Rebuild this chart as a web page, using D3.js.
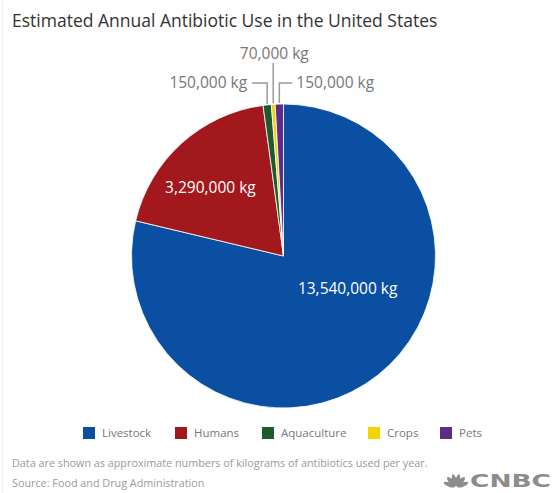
<!DOCTYPE html>
<html>
<head>
<meta charset="utf-8">
<script src="https://cdn.jsdelivr.net/npm/d3@7"></script>
<style>
  body { margin: 0; background: #fff; }
  svg { font-family: "Open Sans", "Noto Sans", sans-serif; }
</style>
</head>
<body>
<div id="plot"></div>
<script>
// data
var categories = ["Livestock", "Humans", "Aquaculture", "Crops", "Pets"];
var kilograms = [13540000, 3290000, 150000, 70000, 150000];
var colors = ["#0b4fa3", "#a3181d", "#1d5a2c", "#f2d500", "#5b2d88"];

var width = 552, height = 493;
var cx = 283.5, cy = 256, radius = 152;

var svg = d3.select("#plot").append("svg")
    .attr("width", width)
    .attr("height", height);

// faint frame line at the left
svg.append("line")
    .attr("x1", 2.5).attr("x2", 2.5)
    .attr("y1", 0).attr("y2", height)
    .attr("stroke", "#f0f0f0");

//Title
svg.append("text")
    .attr("x", 12)
    .attr("y", 27)
    .attr("fill", "#333")
    .style("font-size", "17.5px")
    .text("Estimated Annual Antibiotic Use in the United States");

var fmt = d3.format(",");
var slices = categories.map(function (c, i) {
    return { name: c, value: kilograms[i], color: colors[i] };
});

var pie = d3.pie().sort(null).value(function (d) { return d.value; });
var arcs = pie(slices);
var arc = d3.arc().innerRadius(0).outerRadius(radius);

var g = svg.append("g")
    .attr("transform", "translate(" + cx + "," + cy + ")");

g.selectAll("path")
    .data(arcs)
    .enter().append("path")
    .attr("d", arc)
    .attr("fill", function (d) { return d.data.color; })
    .attr("stroke", "#fff")
    .attr("stroke-width", 0.8);

// labels inside the two big slices (angle in degrees, distance from centre)
var insideLabels = { "Livestock": [117, 72], "Humans": [313, 100] };
arcs.forEach(function (d) {
    var pos = insideLabels[d.data.name];
    if (!pos) return;
    var a = pos[0] * Math.PI / 180;
    g.append("text")
        .attr("x", Math.sin(a) * pos[1])
        .attr("y", -Math.cos(a) * pos[1])
        .attr("dy", "0.35em")
        .attr("text-anchor", "middle")
        .attr("fill", "#fff")
        .style("font-size", "15.5px")
        .text(fmt(d.value) + " kg");
});

// callouts for the thin slices at the top
var callouts = {
    "Aquaculture": { elbowY: -173, dx: -15, anchor: "end" },
    "Crops": { elbowY: -193, dx: 0, anchor: "middle" },
    "Pets": { elbowY: -173, dx: 13, anchor: "start" }
};
arcs.forEach(function (d) {
    var c = callouts[d.data.name];
    if (!c) return;
    var mid = (d.startAngle + d.endAngle) / 2;
    var x0 = Math.sin(mid) * radius, y0 = -Math.cos(mid) * radius;
    var pts = [[x0, y0 - 1], [x0, c.elbowY]];
    if (c.dx !== 0) pts.push([x0 + c.dx, c.elbowY]);
    g.append("path")
        .attr("d", d3.line()(pts))
        .attr("fill", "none")
        .attr("stroke", "#9a9a9a")
        .attr("stroke-width", 1.5);
    var tx = c.dx === 0 ? x0 + 1 : x0 + c.dx + (c.dx < 0 ? -5 : 4);
    var ty = c.dx === 0 ? c.elbowY - 4 : c.elbowY + 5;
    g.append("text")
        .attr("x", tx)
        .attr("y", ty)
        .attr("text-anchor", c.anchor)
        .attr("fill", "#777")
        .style("font-size", "15.5px")
        .text(fmt(d.value) + " kg");
});

// legend
var legendX = [83, 175, 262, 368, 440];
var legend = svg.append("g").attr("class", "legend");
slices.forEach(function (d, i) {
    legend.append("rect")
        .attr("x", legendX[i])
        .attr("y", 427)
        .attr("width", 12)
        .attr("height", 12)
        .attr("fill", d.color);
    legend.append("text")
        .attr("x", legendX[i] + 19)
        .attr("y", 437)
        .attr("fill", "#777")
        .style("font-size", "11.5px")
        .text(d.name);
});

// notes
svg.append("text")
    .attr("x", 12).attr("y", 467)
    .attr("fill", "#9a9a9a")
    .style("font-size", "10.8px")
    .text("Data are shown as approximate numbers of kilograms of antibiotics used per year.");
svg.append("text")
    .attr("x", 12).attr("y", 487)
    .attr("fill", "#9a9a9a")
    .style("font-size", "10.8px")
    .text("Source: Food and Drug Administration");

// CNBC mark
var logo = svg.append("g").attr("transform", "translate(456,487)");
[-70, -42, -14, 14, 42, 70].forEach(function (deg) {
    logo.append("ellipse")
        .attr("cx", 0).attr("cy", -7)
        .attr("rx", 2.2).attr("ry", 6)
        .attr("fill", "#8c8c8c")
        .attr("transform", "rotate(" + deg + ",0,0)");
});
svg.append("text")
    .attr("x", 470).attr("y", 487)
    .attr("fill", "#8c8c8c")
    .attr("textLength", 81)
    .attr("lengthAdjust", "spacingAndGlyphs")
    .style("font-family", "'DejaVu Sans', sans-serif")
    .style("font-weight", "bold")
    .style("font-size", "18px")
    .text("CNBC");
</script>
</body>
</html>
